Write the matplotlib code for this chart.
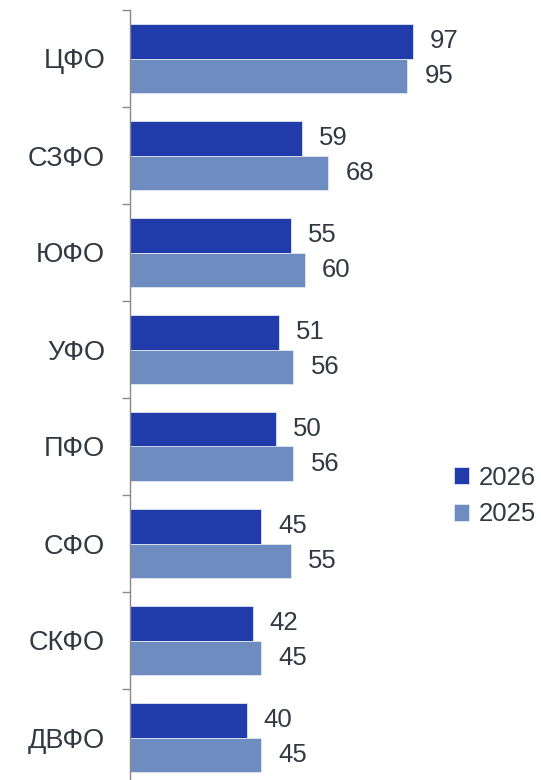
import matplotlib
matplotlib.use("Agg")
import matplotlib.pyplot as plt
import numpy as np

categories = ["ЦФО", "СЗФО", "ЮФО", "УФО", "ПФО", "СФО", "СКФО", "ДВФО"]
values_2026 = [97, 59, 55, 51, 50, 45, 42, 40]
values_2025 = [95, 68, 60, 56, 56, 55, 45, 45]
series_labels = ["2026", "2025"]

c26 = "#223BAA"
c25 = "#6E8CC0"
txt = "#333842"

plt.rcParams['font.family'] = ['Liberation Sans', 'DejaVu Sans']
fs = 18.5

W, H = 541, 780
fig = plt.figure(figsize=(W/100, H/100), dpi=100)
top_px, band_px = 10, 97
n = len(categories)
ax = fig.add_axes([130/W, 1 - (top_px + n*band_px)/H, (W-130)/W, n*band_px/H])

y = np.arange(n)
bh = 0.36
b1 = ax.barh(y - bh/2, values_2026, height=bh, color=c26, edgecolor="#E0E6F2", linewidth=0.6, label=series_labels[0])
b2 = ax.barh(y + bh/2, values_2025, height=bh, color=c25, edgecolor="#E0E6F2", linewidth=0.6, label=series_labels[1])

for bars, vals in ((b1, values_2026), (b2, values_2025)):
    for rect, v in zip(bars, vals):
        ax.annotate(str(v), (rect.get_width(), rect.get_y() + rect.get_height()/2),
                    xytext=(17, 0), textcoords="offset pixels",
                    va="center", ha="left", fontsize=fs, color=txt)

ax.set_ylim(n - 0.5, -0.5)
ax.set_xlim(0, 140.8)
ax.set_yticks(y)
ax.set_yticklabels(categories, fontsize=19.5, color=txt)
ax.tick_params(axis="y", which="major", length=0, pad=18)
ax.set_yticks(np.arange(n + 1) - 0.5, minor=True)
ax.tick_params(axis="y", which="minor", length=6, width=1, color="#888888", direction="out")
ax.set_xticks([])
for s in ["top", "right", "bottom"]:
    ax.spines[s].set_visible(False)
ax.spines["left"].set_color("#888888")
ax.spines["left"].set_linewidth(1)

leg = fig.legend(handles=[b1, b2], labels=series_labels, loc="center left",
                 bbox_to_anchor=(454/W, 1 - 496/H), frameon=False, fontsize=fs,
                 borderpad=0, borderaxespad=0,
                 handlelength=0.6, handleheight=0.6, handletextpad=0.35, labelspacing=0.5,
                 labelcolor=txt)

fig.savefig("out.png", dpi=100)
